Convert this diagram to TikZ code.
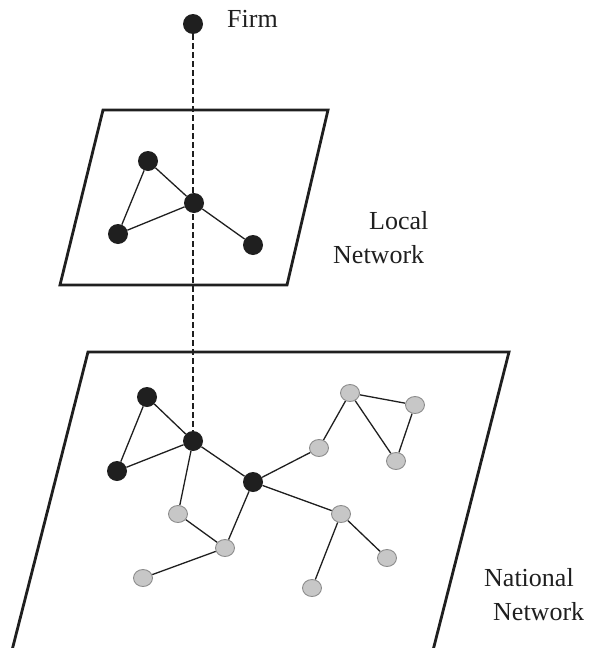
\documentclass[tikz,border=0pt]{standalone}
\usepackage{fontspec}
\setmainfont{Liberation Serif}
\usetikzlibrary{shapes.geometric}
\pgfdeclarelayer{background}
\pgfsetlayers{background,main}
\tikzset{
  firmnode/.style={circle, fill=black!88, draw=none, minimum size=20pt, inner sep=0pt},
  othernode/.style={ellipse, fill=black!22, draw=black!45, line width=0.9pt,
                    minimum width=19pt, minimum height=17pt, inner sep=0pt},
  plane/.style={line width=2.8pt, draw=black!88, line join=miter},
  link/.style={line width=1.3pt, draw=black!88},
  tie/.style={line width=1.2pt, draw=black!88, dash pattern=on 5.5pt off 3.5pt},
  lbl/.style={font=\fontsize{26}{33}\selectfont, text=black!88, inner sep=0pt, anchor=base west}
}
\begin{document}
\begin{tikzpicture}[x=1pt, y=-1pt]
\clip (0,0) rectangle (598,648);

% the two planes
\draw[plane] (103,110) -- (328,110) -- (287,285) -- (60,285) -- cycle;
\draw[plane] (88,352) -- (509,352) -- (428,670) -- (7,670) -- cycle;

% the firm
\node[firmnode] (firm) at (193,24) {};
\node[lbl] (firmlbl) at (227,27) {Firm};

% local network
\node[firmnode] (la) at (148,161) {};
\node[firmnode] (lb) at (194,203) {};
\node[firmnode] (lc) at (118,234) {};
\node[firmnode] (ld) at (253,245) {};
\node[lbl] (loc1) at (369,229) {Local};
\node[lbl] (loc2) at (333,263) {Network};

% national network: the firm's own ties
\node[firmnode] (na) at (147,397) {};
\node[firmnode] (nb) at (193,441) {};
\node[firmnode] (nc) at (117,471) {};
\node[firmnode] (nd) at (253,482) {};

% national network: other firms
\node[othernode] (g1) at (178,514) {};
\node[othernode] (g2) at (225,548) {};
\node[othernode] (g3) at (143,578) {};
\node[othernode] (g4) at (319,448) {};
\node[othernode] (g5) at (350,393) {};
\node[othernode] (g6) at (415,405) {};
\node[othernode] (g7) at (396,461) {};
\node[othernode] (g8) at (341,514) {};
\node[othernode] (g9) at (387,558) {};
\node[othernode] (g10) at (312,588) {};

\node[lbl] (nat1) at (484,586) {National};
\node[lbl] (nat2) at (493,620) {Network};

\begin{pgfonlayer}{background}
  \draw[tie] (firm) -- (nb);
  \draw[link] (la) -- (lb) (la) -- (lc) (lc) -- (lb) (lb) -- (ld);
  \draw[link] (na) -- (nb) (na) -- (nc) (nc) -- (nb) (nb) -- (nd);
  \draw[link] (nb) -- (g1) (g1) -- (g2) (g2) -- (nd) (g2) -- (g3);
  \draw[link] (nd) -- (g4) (g4) -- (g5) (g5) -- (g6) (g5) -- (g7) (g6) -- (g7);
  \draw[link] (nd) -- (g8) (g8) -- (g9) (g8) -- (g10);
\end{pgfonlayer}
\end{tikzpicture}
\end{document}
